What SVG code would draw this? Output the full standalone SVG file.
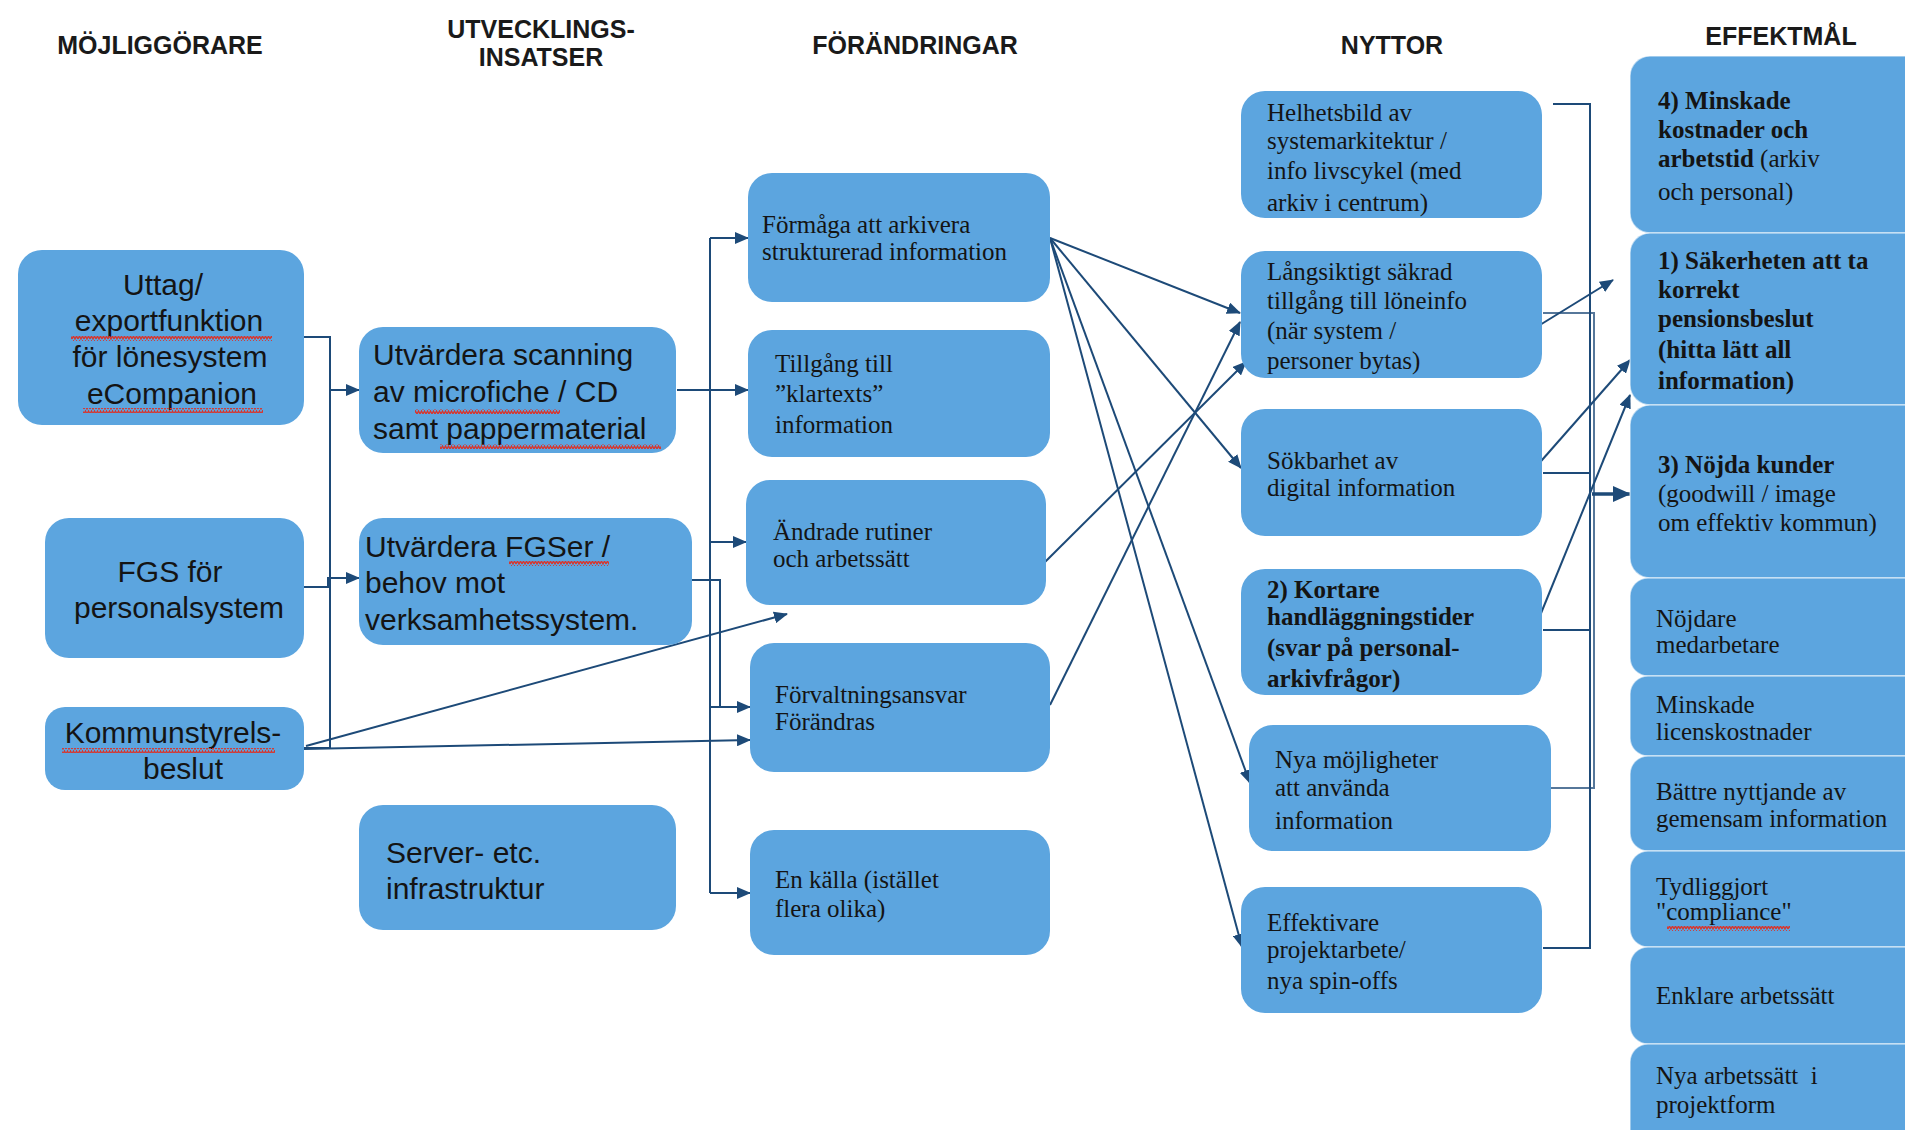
<svg xmlns="http://www.w3.org/2000/svg" width="1905" height="1130" viewBox="0 0 1905 1130">
<style>
.box{fill:#5ca5df;}
.eb{fill:#5ca5df;stroke:#ffffff;stroke-opacity:0.55;stroke-width:1.5;}
.a{font-family:"Liberation Sans",Arial,sans-serif;font-size:30px;fill:#141414;}
.t{font-family:"Liberation Serif","Times New Roman",serif;font-size:25px;fill:#141414;}
.b{font-weight:bold;}
.h{font-family:"Liberation Sans",Arial,sans-serif;font-size:25px;font-weight:bold;fill:#1a1a1a;text-anchor:middle;}
.c{fill:none;stroke:#1d4a78;stroke-width:2;}
.ar{marker-end:url(#arr);}
</style>
<defs>
<marker id="arr" viewBox="0 0 14 12" refX="13" refY="6" markerWidth="14" markerHeight="12" markerUnits="userSpaceOnUse" orient="auto">
<path d="M0,0 L14,6 L0,12 Z" fill="#1d4a78"/>
</marker>
<marker id="arrBig" viewBox="0 0 18 16" refX="17" refY="8" markerWidth="18" markerHeight="16" markerUnits="userSpaceOnUse" orient="auto">
<path d="M0,0 L18,8 L0,16 Z" fill="#1d4a78"/>
</marker>
<pattern id="sq" width="6" height="5" patternUnits="userSpaceOnUse">
<path d="M0,4 L1.5,1 L3,4 L4.5,1 L6,4" stroke="#d9342b" stroke-width="1.3" fill="none"/>
</pattern>
</defs>
<rect width="1905" height="1130" fill="#ffffff"/>

<g id="headers">
<text class="h" x="160" y="54">MÖJLIGGÖRARE</text>
<text class="h" x="541" y="38">UTVECKLINGS-</text>
<text class="h" x="541" y="66">INSATSER</text>
<text class="h" x="915" y="54">FÖRÄNDRINGAR</text>
<text class="h" x="1392" y="54">NYTTOR</text>
<text class="h" x="1781" y="45">EFFEKTMÅL</text>
</g>

<g id="connectors">
<path class="c" d="M304,337 H330 V748"/>
<path class="c" d="M304,748 H330"/>
<path class="c ar" d="M330,390 H359"/>
<path class="c ar" d="M304,587 H328 V578 H359"/>
<path class="c ar" d="M306,746 L787,614"/>
<path class="c ar" d="M304,749 L750,740"/>
<path class="c ar" d="M677,390 H748"/>
<path class="c" d="M710,238 V893"/>
<path class="c ar" d="M710,238 H748"/>
<path class="c ar" d="M710,542 H746"/>
<path class="c ar" d="M710,707 H750"/>
<path class="c ar" d="M710,893 H750"/>
<path class="c" d="M692,580 H720 V707 H740"/>
<path class="c ar" d="M1050,238 L1240,313"/>
<path class="c ar" d="M1050,238 L1241,468"/>
<path class="c ar" d="M1050,238 L1250,783"/>
<path class="c ar" d="M1050,238 L1242,947"/>
<path class="c ar" d="M1042,565 L1246,362"/>
<path class="c ar" d="M1050,705 L1240,322"/>
<path class="c" d="M1553,104 H1590 V948 H1543"/>
<path class="c" style="stroke-opacity:0.75" d="M1543,313 H1594 V788 H1551"/>
<path class="c" d="M1543,473 H1590"/>
<path class="c" d="M1543,630 H1590"/>
<path class="c ar" d="M1535,328 L1613,280"/>
<path class="c ar" d="M1535,468 L1630,360"/>
<path class="c ar" d="M1535,628 L1630,395"/>
<path class="c" style="stroke-width:3.5;marker-end:url(#arrBig)" d="M1592,494 H1630"/>
</g>

<g id="n-uttag">
<rect class="box" x="18" y="250" width="286" height="175" rx="24"/>
<text class="a" text-anchor="middle"><tspan x="163" y="295">Uttag/</tspan><tspan x="169" y="331">exportfunktion</tspan><tspan x="170" y="367">för lönesystem</tspan><tspan x="172" y="404">eCompanion</tspan></text>
<rect x="71" y="336" width="201" height="5" fill="url(#sq)"/>
<rect x="83" y="408" width="180" height="5" fill="url(#sq)"/>
</g>
<g id="n-fgs">
<rect class="box" x="45" y="518" width="259" height="140" rx="24"/>
<text class="a" text-anchor="middle"><tspan x="170" y="582">FGS för</tspan><tspan x="179" y="618">personalsystem</tspan></text>
</g>
<g id="n-kommun">
<rect class="box" x="45" y="707" width="259" height="83" rx="20"/>
<text class="a" text-anchor="middle"><tspan x="173" y="743">Kommunstyrels-</tspan><tspan x="183" y="779">beslut</tspan></text>
<rect x="62" y="748" width="213" height="5" fill="url(#sq)"/>
</g>

<g id="n-scanning">
<rect class="box" x="359" y="327" width="317" height="126" rx="24"/>
<text class="a"><tspan x="373" y="365">Utvärdera scanning</tspan><tspan x="373" y="402">av microfiche / CD</tspan><tspan x="373" y="439">samt pappermaterial</tspan></text>
<rect x="415" y="409" width="145" height="5" fill="url(#sq)"/>
<rect x="440" y="444" width="221" height="5" fill="url(#sq)"/>
</g>
<g id="n-fgser">
<rect class="box" x="359" y="518" width="333" height="127" rx="24"/>
<text class="a"><tspan x="365" y="557">Utvärdera FGSer /</tspan><tspan x="365" y="593">behov mot</tspan><tspan x="365" y="630">verksamhetssystem.</tspan></text>
<rect x="509" y="561" width="100" height="5" fill="url(#sq)"/>
</g>
<g id="n-server">
<rect class="box" x="359" y="805" width="317" height="125" rx="24"/>
<text class="a"><tspan x="386" y="863">Server- etc.</tspan><tspan x="386" y="899">infrastruktur</tspan></text>
</g>

<g id="n-formaga">
<rect class="box" x="748" y="173" width="302" height="129" rx="24"/>
<text class="t"><tspan x="762" y="233">Förmåga att arkivera</tspan><tspan x="762" y="260">strukturerad information</tspan></text>
</g>
<g id="n-tillgang">
<rect class="box" x="748" y="330" width="302" height="127" rx="24"/>
<text class="t"><tspan x="775" y="372">Tillgång till</tspan><tspan x="775" y="402">”klartexts”</tspan><tspan x="775" y="433">information</tspan></text>
</g>
<g id="n-andrade">
<rect class="box" x="746" y="480" width="300" height="125" rx="24"/>
<text class="t"><tspan x="773" y="540">Ändrade rutiner</tspan><tspan x="773" y="567">och arbetssätt</tspan></text>
</g>
<g id="n-forvaltning">
<rect class="box" x="750" y="643" width="300" height="129" rx="24"/>
<text class="t"><tspan x="775" y="703">Förvaltningsansvar</tspan><tspan x="775" y="730">Förändras</tspan></text>
</g>
<g id="n-enkalla">
<rect class="box" x="750" y="830" width="300" height="125" rx="24"/>
<text class="t"><tspan x="775" y="888">En källa (istället</tspan><tspan x="775" y="917">flera olika)</tspan></text>
</g>

<g id="n-helhet">
<rect class="box" x="1241" y="91" width="301" height="127" rx="24"/>
<text class="t"><tspan x="1267" y="121">Helhetsbild av</tspan><tspan x="1267" y="149">systemarkitektur /</tspan><tspan x="1267" y="179">info livscykel (med</tspan><tspan x="1267" y="211">arkiv i centrum)</tspan></text>
</g>
<g id="n-langsiktigt">
<rect class="box" x="1241" y="251" width="301" height="127" rx="24"/>
<text class="t"><tspan x="1267" y="280">Långsiktigt säkrad</tspan><tspan x="1267" y="309">tillgång till löneinfo</tspan><tspan x="1267" y="339">(när system /</tspan><tspan x="1267" y="369">personer bytas)</tspan></text>
</g>
<g id="n-sokbarhet">
<rect class="box" x="1241" y="409" width="301" height="127" rx="24"/>
<text class="t"><tspan x="1267" y="469">Sökbarhet av</tspan><tspan x="1267" y="496">digital information</tspan></text>
</g>
<g id="n-kortare">
<rect class="box" x="1241" y="569" width="301" height="126" rx="24"/>
<text class="t b"><tspan x="1267" y="598">2) Kortare</tspan><tspan x="1267" y="625">handläggningstider</tspan><tspan x="1267" y="656">(svar på personal-</tspan><tspan x="1267" y="687">arkivfrågor)</tspan></text>
</g>
<g id="n-nya">
<rect class="box" x="1249" y="725" width="302" height="126" rx="24"/>
<text class="t"><tspan x="1275" y="768">Nya möjligheter</tspan><tspan x="1275" y="796">att använda</tspan><tspan x="1275" y="829">information</tspan></text>
</g>
<g id="n-effektivare">
<rect class="box" x="1241" y="887" width="301" height="126" rx="24"/>
<text class="t"><tspan x="1267" y="931">Effektivare</tspan><tspan x="1267" y="958">projektarbete/</tspan><tspan x="1267" y="989">nya spin-offs</tspan></text>
</g>

<g id="e-4">
<rect class="eb" x="1630" y="56" width="320" height="177" rx="20"/>
<text class="t"><tspan x="1658" y="109" class="b">4) Minskade</tspan><tspan x="1658" y="138" class="b">kostnader och</tspan><tspan x="1658" y="167" class="b">arbetstid</tspan><tspan> (arkiv</tspan><tspan x="1658" y="200">och personal)</tspan></text>
</g>
<g id="e-1">
<rect class="eb" x="1630" y="233" width="320" height="172" rx="20"/>
<text class="t b"><tspan x="1658" y="269">1) Säkerheten att ta</tspan><tspan x="1658" y="298">korrekt</tspan><tspan x="1658" y="327">pensionsbeslut</tspan><tspan x="1658" y="358">(hitta lätt all</tspan><tspan x="1658" y="389">information)</tspan></text>
</g>
<g id="e-3">
<rect class="eb" x="1630" y="405" width="320" height="173" rx="20"/>
<text class="t"><tspan x="1658" y="473" class="b">3) Nöjda kunder</tspan><tspan x="1658" y="502">(goodwill / image</tspan><tspan x="1658" y="531">om effektiv kommun)</tspan></text>
</g>
<g id="e-nojdare">
<rect class="eb" x="1630" y="578" width="320" height="98" rx="18"/>
<text class="t"><tspan x="1656" y="627">Nöjdare</tspan><tspan x="1656" y="653">medarbetare</tspan></text>
</g>
<g id="e-licens">
<rect class="eb" x="1630" y="676" width="320" height="80" rx="18"/>
<text class="t"><tspan x="1656" y="713">Minskade</tspan><tspan x="1656" y="740">licenskostnader</tspan></text>
</g>
<g id="e-battre">
<rect class="eb" x="1630" y="756" width="320" height="95" rx="18"/>
<text class="t"><tspan x="1656" y="800">Bättre nyttjande av</tspan><tspan x="1656" y="827">gemensam information</tspan></text>
</g>
<g id="e-tydlig">
<rect class="eb" x="1630" y="851" width="320" height="96" rx="18"/>
<text class="t"><tspan x="1656" y="895">Tydliggjort</tspan><tspan x="1656" y="920">"compliance"</tspan></text>
<rect x="1667" y="926" width="123" height="5" fill="url(#sq)"/>
</g>
<g id="e-enklare">
<rect class="eb" x="1630" y="947" width="320" height="97" rx="18"/>
<text class="t"><tspan x="1656" y="1004">Enklare arbetssätt</tspan></text>
</g>
<g id="e-nyaarb">
<rect class="eb" x="1630" y="1044" width="320" height="120" rx="18"/>
<text class="t" xml:space="preserve"><tspan x="1656" y="1084">Nya arbetssätt  i</tspan><tspan x="1656" y="1113">projektform</tspan></text>
</g>
</svg>
